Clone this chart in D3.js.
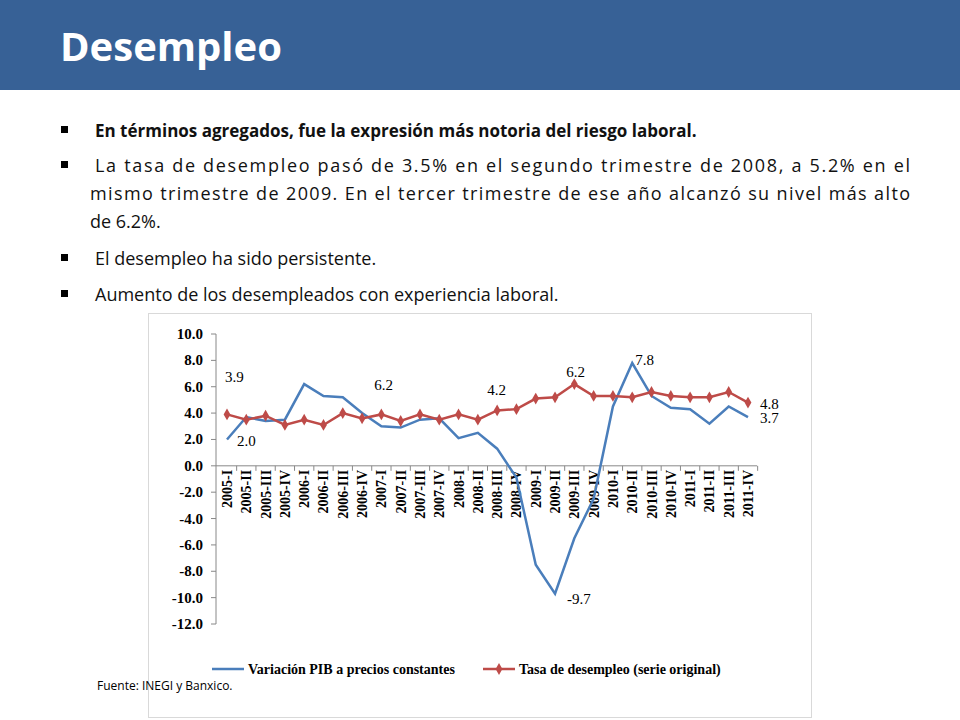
<!DOCTYPE html><html><head><meta charset="utf-8"><script src="https://d3js.org/d3.v7.min.js"></script>
<style>body{margin:0;background:#fff}</style></head><body><svg id="c" width="960" height="720"></svg>
<script>
const categories=["2005-I","2005-II","2005-III","2005-IV","2006-I","2006-II","2006-III","2006-IV","2007-I","2007-II","2007-III","2007-IV","2008-I","2008-II","2008-III","2008-IV","2009-I","2009-II","2009-III","2009-IV","2010-I","2010-II","2010-III","2010-IV","2011-I","2011-II","2011-III","2011-IV"];
const pib=[2.0,3.7,3.4,3.5,6.2,5.3,5.2,4.0,3.0,2.9,3.5,3.6,2.1,2.5,1.3,-0.9,-7.5,-9.7,-5.5,-2.5,4.5,7.8,5.3,4.4,4.3,3.2,4.5,3.7];
const desempleo=[3.9,3.5,3.8,3.1,3.5,3.1,4.0,3.6,3.9,3.4,3.9,3.5,3.9,3.5,4.2,4.3,5.1,5.2,6.2,5.3,5.3,5.2,5.6,5.3,5.2,5.2,5.6,4.8];
const yTicks=[10,8,6,4,2,0,-2,-4,-6,-8,-10,-12];
const pibLabels={0:"2.0",4:"6.2",17:"-9.7",21:"7.8",27:"3.7"};
const desLabels={0:"3.9",14:"4.2",18:"6.2",27:"4.8"};
const svg=d3.select("#c");
svg.append("rect").attr("width",960).attr("height",90).attr("fill","#376196");
svg.append("text").attr("x",60).attr("y",61).attr("fill","#fff").attr("font-family","Open Sans").attr("font-weight","bold").attr("font-size",40).text("Desempleo");
const F="Open Sans";
function bullet(y){svg.append("rect").attr("x",61).attr("y",y-11).attr("width",7).attr("height",7).attr("fill","#000");}
function line(t,x,y,opts={}){const e=svg.append("text").attr("x",x).attr("y",y).attr("font-family",F).attr("font-size",opts.bold?17:18).attr("fill","#111").text(t);if(opts.bold)e.attr("font-weight","bold");if(opts.w)e.attr("textLength",opts.w).attr("lengthAdjust","spacing");}
bullet(137);line("En términos agregados, fue la expresión más notoria del riesgo laboral.",95,137,{bold:true});
bullet(172);line("La tasa de desempleo pasó de 3.5% en el segundo trimestre de 2008, a 5.2% en el",95,172,{w:815});
line("mismo trimestre de 2009. En el tercer trimestre de ese año alcanzó su nivel más alto",90,200,{w:820});
line("de 6.2%.",90,228);
bullet(265);line("El desempleo ha sido persistente.",95,265);
bullet(301);line("Aumento de los desempleados con experiencia laboral.",95,301);
svg.append("rect").attr("x",148.5).attr("y",313.5).attr("width",663).attr("height",404).attr("fill","none").attr("stroke","#d9d9d9");
const x=d3.scalePoint().domain(categories).range([227,748]);
const y=d3.scaleLinear().domain([-12,10]).range([624,334]);
const S="Times New Roman, Liberation Serif, serif";
const g=svg.append("g");
g.append("line").attr("x1",216).attr("x2",216).attr("y1",y(10)).attr("y2",y(-12)).attr("stroke","#888");
yTicks.forEach(t=>{g.append("line").attr("x1",211).attr("x2",216).attr("y1",y(t)).attr("y2",y(t)).attr("stroke","#888");
g.append("text").attr("x",203).attr("y",y(t)+5).attr("text-anchor","end").attr("font-family",S).attr("font-weight","bold").attr("font-size",15).text(t.toFixed(1));});
g.append("line").attr("x1",216).attr("x2",757).attr("y1",y(0)).attr("y2",y(0)).attr("stroke","#888");
const step=x.step();
categories.forEach((c,i)=>{const xv=x(c);g.append("line").attr("x1",xv+step/2).attr("x2",xv+step/2).attr("y1",y(0)).attr("y2",y(0)+5).attr("stroke","#888");
g.append("text").attr("transform",`translate(${xv+5},${y(0)+4}) rotate(-90)`).attr("text-anchor","end").attr("font-family",S).attr("font-weight","bold").attr("font-size",14).text(c);});
const ln=d3.line().x((d,i)=>x(categories[i])).y(d=>y(d));
g.append("path").datum(pib).attr("d",ln).attr("fill","none").attr("stroke","#4a7ebb").attr("stroke-width",2.5);
g.append("path").datum(desempleo).attr("d",ln).attr("fill","none").attr("stroke","#be4b48").attr("stroke-width",2.5);
g.selectAll(".m").data(desempleo).enter().append("path").attr("transform",(d,i)=>`translate(${x(categories[i])},${y(d)})`).attr("d",d3.symbol(d3.symbolDiamond,40)).attr("fill","#be4b48");
const off={0:[-2,-32],14:[-10,-15],18:[-8,-7],27:[12,6]};
const offP={0:[10,7],4:[70,6],17:[12,10],21:[3,2],27:[12,6]};
Object.entries(desLabels).forEach(([i,t])=>{const o=off[i];g.append("text").attr("x",x(categories[i])+o[0]).attr("y",y(desempleo[i])+o[1]).attr("font-family",S).attr("font-size",15).text(t);});
Object.entries(pibLabels).forEach(([i,t])=>{const o=offP[i];g.append("text").attr("x",x(categories[i])+o[0]).attr("y",y(pib[i])+o[1]).attr("font-family",S).attr("font-size",15).text(t);});
const lg=svg.append("g");
lg.append("line").attr("x1",212).attr("x2",244).attr("y1",669).attr("y2",669).attr("stroke","#4a7ebb").attr("stroke-width",2.5);
lg.append("text").attr("x",248).attr("y",674).attr("font-family",S).attr("font-weight","bold").attr("font-size",14).text("Variación PIB a precios constantes");
lg.append("line").attr("x1",483).attr("x2",515).attr("y1",669).attr("y2",669).attr("stroke","#be4b48").attr("stroke-width",2.5);
lg.append("path").attr("transform","translate(499,669)").attr("d",d3.symbol(d3.symbolDiamond,40)).attr("fill","#be4b48");
lg.append("text").attr("x",519).attr("y",674).attr("font-family",S).attr("font-weight","bold").attr("font-size",14).text("Tasa de desempleo (serie original)");
svg.append("text").attr("x",97).attr("y",690).attr("font-family",F).attr("font-size",12).text("Fuente: INEGI y Banxico.");
</script></body></html>
